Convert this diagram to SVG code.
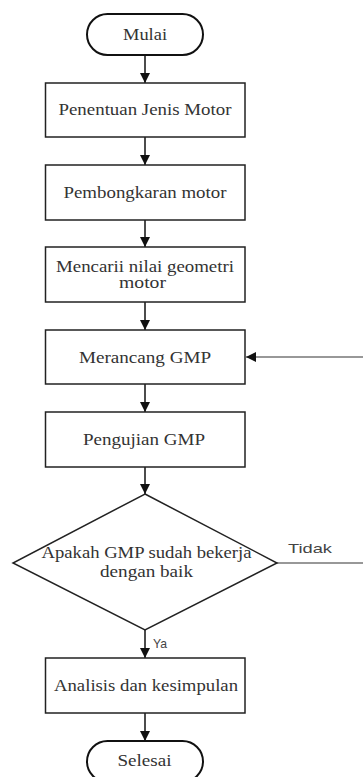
<svg xmlns="http://www.w3.org/2000/svg" width="363" height="777" viewBox="0 0 363 777">
<style>
.box{fill:#fff;stroke:#222;stroke-width:1.5}
.term{fill:#fff;stroke:#111;stroke-width:2}
.t{font-family:"Liberation Serif","Times New Roman",serif;font-size:16px;fill:#333;text-anchor:middle}
.s{font-family:"Liberation Sans",Arial,sans-serif;font-size:13px;fill:#444}
.c{fill:none;stroke:#111;stroke-width:1.5}
.g{fill:none;stroke:#777;stroke-width:1.5}
</style>
<defs>
<marker id="ah" viewBox="0 0 10 10" refX="10" refY="5" markerWidth="10" markerHeight="10" markerUnits="userSpaceOnUse" orient="auto">
<path d="M0,0 L10,5 L0,10 Z" fill="#111"/>
</marker>
</defs>
<rect width="363" height="777" fill="#fff"/>
<g id="connectors">
<path class="c" d="M145,55 V83" marker-end="url(#ah)"/>
<path class="c" d="M145,137 V165" marker-end="url(#ah)"/>
<path class="c" d="M145,220 V247" marker-end="url(#ah)"/>
<path class="c" d="M145,302 V330" marker-end="url(#ah)"/>
<path class="c" d="M145,384 V412" marker-end="url(#ah)"/>
<path class="c" d="M145,467 V494" marker-end="url(#ah)"/>
<path class="c" d="M145,630 V658" marker-end="url(#ah)"/>
<path class="c" d="M145,713 V741" marker-end="url(#ah)"/>
<path class="g" d="M277,563 H365 V357 H246" marker-end="url(#ah)"/>
<text class="s" x="288" y="553" textLength="44" lengthAdjust="spacingAndGlyphs">Tidak</text>
<text class="s" x="153" y="648" textLength="14" lengthAdjust="spacingAndGlyphs">Ya</text>
</g>
<g id="mulai">
<rect class="term" x="87" y="14" width="116" height="41" rx="20.5" ry="20.5"/>
<text class="t" x="145" y="39.5" textLength="44" lengthAdjust="spacingAndGlyphs">Mulai</text>
</g>
<g id="penentuan">
<rect class="box" x="45.5" y="83" width="199.5" height="54"/>
<text class="t" x="145" y="115" textLength="173" lengthAdjust="spacingAndGlyphs">Penentuan Jenis Motor</text>
</g>
<g id="pembongkaran">
<rect class="box" x="45.5" y="165" width="199.5" height="55"/>
<text class="t" x="145" y="197.5" textLength="163" lengthAdjust="spacingAndGlyphs">Pembongkaran motor</text>
</g>
<g id="mencari">
<rect class="box" x="45.5" y="247" width="199.5" height="55"/>
<text class="t" x="145" y="271.5" textLength="178" lengthAdjust="spacingAndGlyphs">Mencarii nilai geometri</text>
<text class="t" x="142.5" y="288" textLength="47" lengthAdjust="spacingAndGlyphs">motor</text>
</g>
<g id="merancang">
<rect class="box" x="45.5" y="330" width="199.5" height="54"/>
<text class="t" x="145" y="362.5" textLength="132" lengthAdjust="spacingAndGlyphs">Merancang GMP</text>
</g>
<g id="pengujian">
<rect class="box" x="45.5" y="412" width="199.5" height="55"/>
<text class="t" x="144" y="445" textLength="122" lengthAdjust="spacingAndGlyphs">Pengujian GMP</text>
</g>
<g id="keputusan">
<polygon class="box" points="145,494 277,563 145,630 13,563"/>
<text class="t" x="146.5" y="558" textLength="210" lengthAdjust="spacingAndGlyphs">Apakah GMP sudah bekerja</text>
<text class="t" x="146.5" y="577" textLength="93" lengthAdjust="spacingAndGlyphs">dengan baik</text>
</g>
<g id="analisis">
<rect class="box" x="45.5" y="658" width="199.5" height="55"/>
<text class="t" x="146" y="691" textLength="184" lengthAdjust="spacingAndGlyphs">Analisis dan kesimpulan</text>
</g>
<g id="selesai">
<rect class="term" x="87" y="741" width="116" height="41" rx="20.5" ry="20.5"/>
<text class="t" x="144.5" y="766" textLength="54" lengthAdjust="spacingAndGlyphs">Selesai</text>
</g>
</svg>
